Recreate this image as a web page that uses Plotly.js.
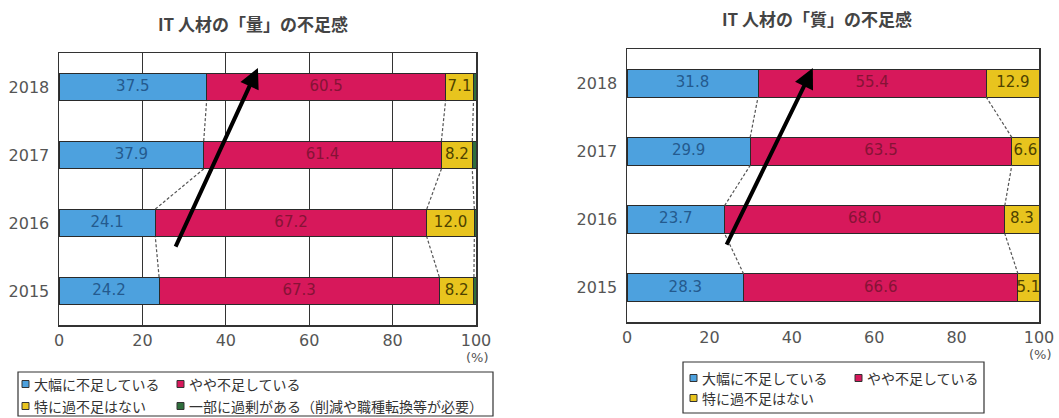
<!DOCTYPE html>
<html><head><meta charset="utf-8">
<script src="https://cdn.plot.ly/plotly-3.0.1.min.js"></script>
<style>html,body{margin:0;padding:0;background:#fff}</style>
</head><body><div id="chart" style="width:1059px;height:418px"></div>
<script>
// ---------- data ----------
const years = ['2015', '2016', '2017', '2018'];
const xTicks = [0, 20, 40, 60, 80, 100];
const seriesNames = ['大幅に不足している', 'やや不足している', '特に過不足はない', '一部に過剰がある（削減や職種転換等が必要）'];
const titleQty = 'IT 人材の「量」の不足感';
const titleQual = 'IT 人材の「質」の不足感';

// 「量」: bar lengths as drawn in the picture
const qtyLarge  = [24.0, 23.1, 34.7, 35.4];
const qtySome   = [67.2, 65.1, 57.0, 57.3];
const qtyNone   = [8.3, 11.4, 7.4, 6.7];
const qtyExcess = [0.5, 0.4, 0.9, 0.6];
// 「量」: printed value labels
const qtyLargeText = ['24.2', '24.1', '37.9', '37.5'];
const qtySomeText  = ['67.3', '67.2', '61.4', '60.5'];
const qtyNoneText  = ['8.2', '12.0', '8.2', '7.1'];

// 「質」
const qualLarge = [28.3, 23.7, 29.9, 31.8];
const qualSome  = [66.6, 68.0, 63.5, 55.4];
const qualNone  = [5.1, 8.3, 6.6, 12.9];
const qualLargeText = ['28.3', '23.7', '29.9', '31.8'];
const qualSomeText  = ['66.6', '68.0', '63.5', '55.4'];
const qualNoneText  = ['5.1', '8.3', '6.6', '12.9'];

// ---------- style ----------
const colors = ['#4DA1DE', '#D7185B', '#E8C41E', '#2F6E3C'];
const labelColors = ['#245A8E', '#861336', '#4E4200'];
const W = 1059, H = 418;
const px = x => x / W, py = y => 1 - y / H;
const numFont = 'DejaVu Sans, sans-serif';
const jpFont = 'Noto Sans CJK JP, sans-serif';
const BW = 0.41;
const yPos = years.map((_, i) => i);

function cumul(arrs) {
  const out = [];
  let run = yPos.map(() => 0);
  arrs.forEach(a => { run = run.map((r, i) => r + a[i]); out.push(run.slice()); });
  return out;
}

function buildChart(series, texts, xa, ya, connectIdx) {
  const traces = [];
  series.forEach((vals, k) => {
    traces.push({
      type: 'bar', orientation: 'h', x: vals, y: yPos, width: BW,
      xaxis: xa, yaxis: ya, name: seriesNames[k], showlegend: false,
      marker: {color: colors[k], line: {color: '#2a2a2a', width: 1}},
      hoverinfo: 'skip'
    });
  });
  const cums = cumul(series);
  texts.forEach((t, k) => {
    const starts = k === 0 ? yPos.map(() => 0) : cums[k - 1];
    traces.push({
      type: 'scatter', mode: 'text', xaxis: xa, yaxis: ya, showlegend: false,
      x: series[k].map((v, i) => starts[i] + v / 2), y: yPos, text: t,
      textfont: {family: numFont, size: 15, color: labelColors[k]},
      cliponaxis: true, hoverinfo: 'skip'
    });
  });
  // dashed connectors
  const cx = [], cy = [];
  connectIdx.forEach(k => {
    for (let i = 0; i < yPos.length - 1; i++) {
      cx.push(cums[k][i], cums[k][i + 1], null);
      cy.push(yPos[i] + BW / 2, yPos[i + 1] - BW / 2, null);
    }
  });
  traces.push({
    type: 'scatter', mode: 'lines', xaxis: xa, yaxis: ya, showlegend: false,
    x: cx, y: cy, line: {color: '#555', width: 1.2, dash: '3px,2px'},
    hoverinfo: 'skip', cliponaxis: false
  });
  return traces;
}

const data = [].concat(
  buildChart([qtyLarge, qtySome, qtyNone, qtyExcess], [qtyLargeText, qtySomeText, qtyNoneText], 'x', 'y', [0, 1, 2]),
  buildChart([qualLarge, qualSome, qualNone], [qualLargeText, qualSomeText, qualNoneText], 'x2', 'y2', [0, 1])
);

const tickFont = {family: numFont, size: 16, color: '#555'};
function xAxis(dom, yref, grid) {
  return {domain: dom, range: [0, 100], tickvals: xTicks, ticktext: xTicks.map(String),
    showgrid: grid, gridcolor: '#333', gridwidth: 1, zeroline: false,
    showline: true, mirror: true, linecolor: '#333', linewidth: 1.5,
    ticks: '', tickfont: tickFont, anchor: yref, fixedrange: true, ticklabelstandoff: 0};
}
function yAxis(dom, xref) {
  return {domain: dom, range: [-0.5, 3.5], tickvals: yPos, ticktext: years,
    showgrid: false, zeroline: false, showline: true, mirror: true,
    linecolor: '#333', linewidth: 1.5, ticks: '', tickfont: tickFont,
    anchor: xref, fixedrange: true, ticklabelstandoff: 5};
}

const annotations = [
  {xref: 'paper', yref: 'paper', x: px(253), y: py(24), text: titleQty, showarrow: false,
   xanchor: 'center', yanchor: 'middle', font: {family: jpFont, size: 17, color: '#444', weight: 'bold'}},
  {xref: 'paper', yref: 'paper', x: px(817), y: py(19), text: titleQual, showarrow: false,
   xanchor: 'center', yanchor: 'middle', font: {family: jpFont, size: 17, color: '#444', weight: 'bold'}},
  {xref: 'paper', yref: 'paper', x: px(477), y: py(357), text: '(%)', showarrow: false,
   xanchor: 'center', yanchor: 'middle', font: {family: numFont, size: 13, color: '#555'}},
  {xref: 'paper', yref: 'paper', x: px(1040), y: py(354), text: '(%)', showarrow: false,
   xanchor: 'center', yanchor: 'middle', font: {family: numFont, size: 13, color: '#555'}},
  // arrows
  {xref: 'x', yref: 'y', axref: 'x', ayref: 'y', x: 47.7, y: 3.28, ax: 27.8, ay: 0.63,
   text: '', showarrow: true, arrowhead: 2, arrowsize: 1, arrowwidth: 4, arrowcolor: '#000'},
  {xref: 'x2', yref: 'y2', axref: 'x2', ayref: 'y2', x: 45.1, y: 3.22, ax: 24.0, ay: 0.61,
   text: '', showarrow: true, arrowhead: 2, arrowsize: 1, arrowwidth: 4, arrowcolor: '#000'}
];

const shapes = [
  {type: 'rect', xref: 'paper', yref: 'paper', x0: px(18), x1: px(493), y0: py(416), y1: py(372),
   line: {color: '#333', width: 1.2}, fillcolor: 'rgba(0,0,0,0)'},
  {type: 'rect', xref: 'paper', yref: 'paper', x0: px(683), x1: px(984), y0: py(413), y1: py(362),
   line: {color: '#333', width: 1.2}, fillcolor: 'rgba(0,0,0,0)'}
];

function legendItem(xm, yc, k) {
  shapes.push({type: 'rect', xref: 'paper', yref: 'paper',
    x0: px(xm), x1: px(xm + 7), y0: py(yc + 3.5), y1: py(yc - 3.5),
    line: {color: '#333', width: 1}, fillcolor: colors[k]});
  annotations.push({xref: 'paper', yref: 'paper', x: px(xm + 10), y: py(yc), text: seriesNames[k],
    showarrow: false, xanchor: 'left', yanchor: 'middle',
    font: {family: jpFont, size: 14, color: '#333'}});
}
legendItem(22, 384, 0); legendItem(177, 384, 1);
legendItem(22, 406, 2); legendItem(177, 406, 3);
legendItem(690, 378, 0); legendItem(855, 378, 1);
legendItem(690, 398, 2);

const layout = {
  width: W, height: H, margin: {l: 0, r: 0, t: 0, b: 0},
  paper_bgcolor: '#fff', plot_bgcolor: '#fff', barmode: 'stack', bargap: 0,
  showlegend: false,
  xaxis: xAxis([px(59), px(476)], 'y', true),
  yaxis: yAxis([py(325), py(53)], 'x'),
  xaxis2: xAxis([px(627), px(1039)], 'y2', false),
  yaxis2: yAxis([py(322), py(49)], 'x2'),
  annotations: annotations, shapes: shapes
};

Plotly.newPlot('chart', data, layout, {displayModeBar: false, staticPlot: true});
</script></body></html>
